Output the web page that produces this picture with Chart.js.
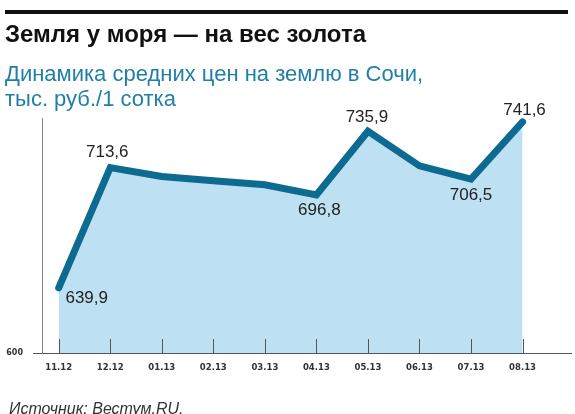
<!DOCTYPE html>
<html>
<head>
<meta charset="utf-8">
<script src="https://cdn.jsdelivr.net/npm/chart.js@4/dist/chart.umd.min.js"></script>
<style>
  html, body { margin: 0; padding: 0; background: #fff; }
  #wrap { position: relative; width: 575px; height: 414px; overflow: hidden; }
  #bar { position: absolute; left: 5px; top: 10px; width: 563px; height: 4px; background: #111; }
  #title { position: absolute; left: 5px; top: 20px; font: bold 24px "Liberation Sans", Arial, sans-serif; color: #111; white-space: nowrap; }
  #subtitle { position: absolute; left: 5px; top: 61px; font: 22px "Liberation Sans", Arial, sans-serif; line-height: 25px; color: #1f7fa8; white-space: nowrap; }
  #source { position: absolute; left: 9px; top: 400px; font: italic 16px "Liberation Sans", Arial, sans-serif; color: #333; white-space: nowrap; }
  canvas { position: absolute; left: 0; top: 0; }
</style>
</head>
<body>
<div id="wrap">
  <canvas id="landChart" width="575" height="414"></canvas>
  <div id="bar"></div>
  <div id="title">Земля у моря — на вес золота</div>
  <div id="subtitle">Динамика средних цен на землю в Сочи,<br>тыс. руб./1 сотка</div>
  <div id="source">Источник: Вестум.RU.</div>
</div>
<script>
// Данные графика
const months = ['11.12', '12.12', '01.13', '02.13', '03.13', '04.13', '05.13', '06.13', '07.13', '08.13'];
const prices = [639.9, 713.6, 708.2, 705.6, 703.1, 696.8, 735.9, 714.7, 706.5, 741.6];
const yTicks = [600];

// Подписи значений: какие точки подписывать и куда сдвигать текст
const labelShift = {
    0: [28, 10],
    1: [-3, -15],
    5: [3, 15],
    6: [-1, -14],
    8: [0, 16],
    9: [2, -12]
};

function formatValue(v) {
    return v.toFixed(1).replace('.', ',');
}

// Короткие риски на оси X, направленные вверх
const innerTicks = {
    id: 'innerTicks',
    afterDatasetsDraw(chart) {
        const ctx = chart.ctx;
        const xScale = chart.scales.x;
        const bottom = chart.chartArea.bottom;
        ctx.save();
        ctx.strokeStyle = '#555';
        ctx.lineWidth = 1;
        months.forEach((m, i) => {
            const x = Math.round(xScale.getPixelForValue(i)) + 0.5;
            ctx.beginPath();
            ctx.moveTo(x, bottom);
            ctx.lineTo(x, bottom - 14);
            ctx.stroke();
        });
        ctx.restore();
    }
};

// Подписи значений у точек
const valueLabels = {
    id: 'valueLabels',
    afterDatasetsDraw(chart) {
        const ctx = chart.ctx;
        const meta = chart.getDatasetMeta(0);
        ctx.save();
        ctx.font = '17px "Liberation Sans", Arial, sans-serif';
        ctx.fillStyle = '#222';
        ctx.textAlign = 'center';
        ctx.textBaseline = 'middle';
        Object.keys(labelShift).forEach(key => {
            const i = Number(key);
            const pt = meta.data[i];
            const [dx, dy] = labelShift[key];
            ctx.fillText(formatValue(prices[i]), pt.x + dx, pt.y + dy);
        });
        ctx.restore();
    }
};

const ctx = document.getElementById('landChart').getContext('2d');
new Chart(ctx, {
    type: 'line',
    data: {
        datasets: [{
            data: prices.map((v, i) => ({ x: i, y: v })),
            borderColor: '#0d6a91',
            borderWidth: 7,
            borderCapStyle: 'round',
            borderJoinStyle: 'miter',
            backgroundColor: '#bde0f3',
            fill: 'start',
            tension: 0,
            pointRadius: 0
        }]
    },
    options: {
        responsive: false,
        animation: false,
        devicePixelRatio: 1,
        layout: { padding: { top: 118, right: 4, left: 0, bottom: 0 } },
        plugins: {
            legend: { display: false },
            tooltip: { enabled: false }
        },
        scales: {
            x: {
                type: 'linear',
                min: -0.324,
                max: 9.94,
                afterBuildTicks: scale => { scale.ticks = months.map((m, i) => ({ value: i })); },
                afterFit: scale => { scale.height = 61; },
                grid: { display: true, drawOnChartArea: false, drawTicks: false },
                border: { display: true, color: '#555', width: 1 },
                ticks: {
                    autoSkip: false,
                    maxRotation: 0,
                    padding: 10,
                    color: '#333',
                    font: { family: 'DejaVu Sans', size: 8.5, weight: 'bold' },
                    callback: value => months[value]
                }
            },
            y: {
                min: 600,
                max: 744,
                afterBuildTicks: scale => { scale.ticks = yTicks.map(v => ({ value: v })); },
                afterFit: scale => { scale.width = 42; },
                grid: { display: true, drawOnChartArea: false, drawTicks: true, tickLength: 9, color: '#555' },
                border: { display: true, color: '#888', width: 1 },
                ticks: {
                    padding: 10,
                    color: '#333',
                    font: { family: 'DejaVu Sans', size: 8, weight: 'bold' }
                }
            }
        }
    },
    plugins: [innerTicks, valueLabels]
});
</script>
</body>
</html>
